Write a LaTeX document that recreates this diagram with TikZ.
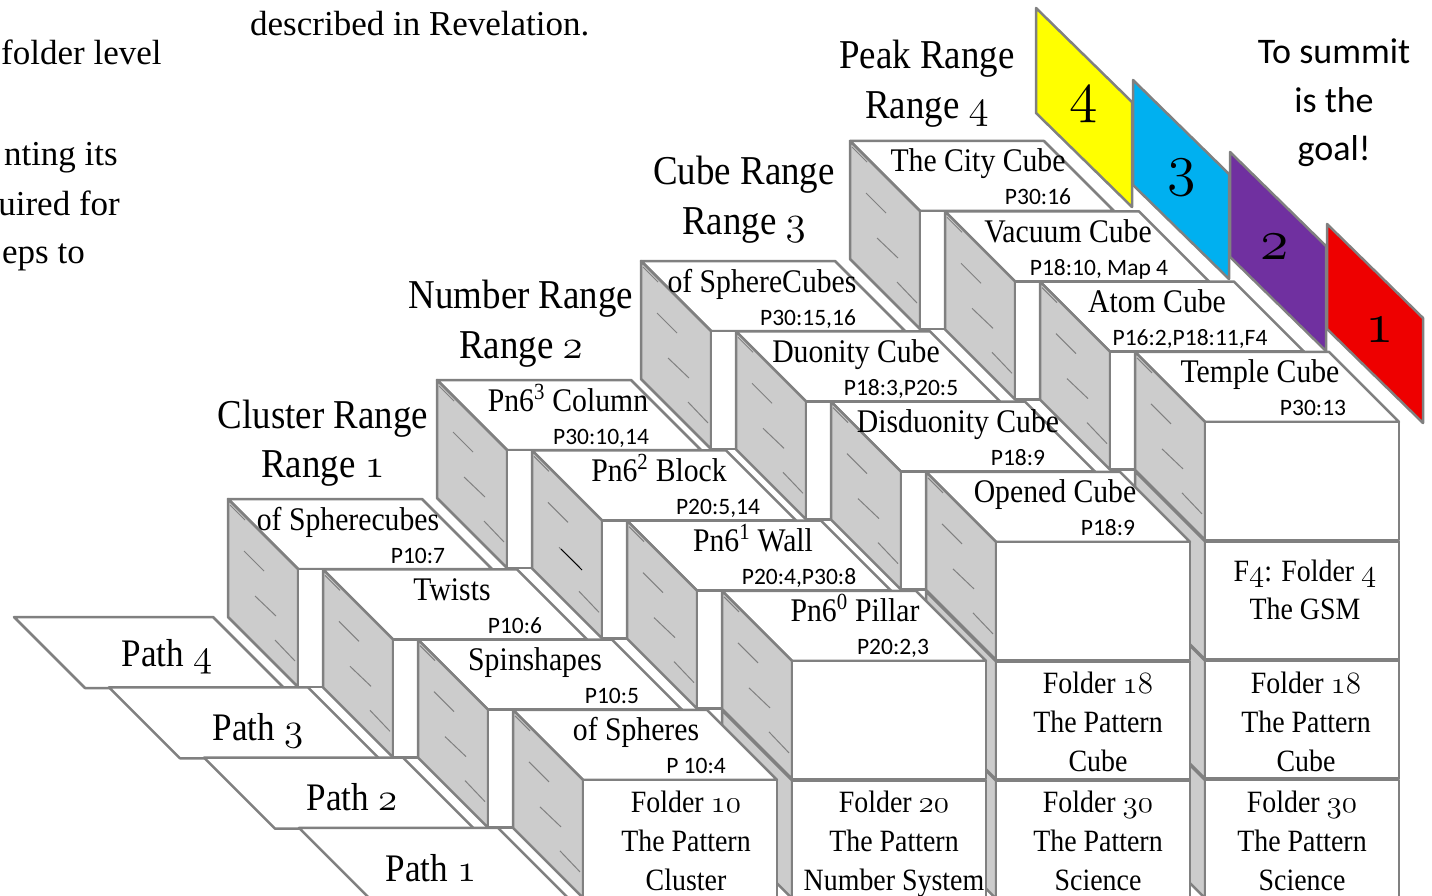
\RequirePackage{fix-cm}
\documentclass[tikz,border=0pt]{standalone}
\usepackage{fontspec}
\setmainfont{Liberation Serif}[FakeStretch=0.9]
\newfontfamily\plainserif{Liberation Serif}
\newfontfamily\calib{Carlito}
\newcommand\osf[1]{{\fontencoding{OML}\fontfamily{cmm}\fontseries{m}\fontshape{it}\selectfont #1}}
\definecolor{edgegray}{RGB}{128,128,128}
\definecolor{sidegray}{RGB}{204,204,204}
\definecolor{flagyellow}{RGB}{255,255,0}
\definecolor{flagblue}{RGB}{0,176,240}
\definecolor{flagpurple}{RGB}{112,48,160}
\definecolor{flagred}{RGB}{238,0,0}
% box: #1 x, #2 y, #3 name, #4 label, #5 label x, #6 page label, #7 page label x
\newcommand\cubebox[7]{%
  \begin{scope}[shift={(#1,#2)}]
    \draw[boxedge,fill=white] (0,0) -- (194,0) -- (264,70) -- (70,70) -- cycle;
    \draw[boxedge,fill=sidegray] (0,0) -- (70,70) -- (70,188) -- (0,118) -- cycle;
    \draw[boxedge,fill=white] (70,70) rectangle (264,188);
    \draw[hatchline] (2,6) -- (17,21) (16,52) -- (36,72) (27,97) -- (48,117) (47,141) -- (67,162);
    \node[toplbl] (#3) at (#5,31) {#4};
    \node[plbl] (#3p) at (#7,64) {#6};
  \end{scope}}
\newcommand\lowerblock[2]{%
  \begin{scope}[shift={(#1,#2)}]
    \draw[boxedge,fill=sidegray] (0,0) -- (70,70) -- (70,188) -- (0,118) -- cycle;
    \draw[boxedge,fill=white] (70,70) rectangle (264,188);
  \end{scope}}
\begin{document}
\begin{tikzpicture}[x=1pt,y=-1pt,
  boxedge/.style={draw=edgegray,line width=2.5pt,line join=round},
  hatchline/.style={draw=edgegray,line width=1pt},
  toplbl/.style={font=\fontsize{33}{39}\selectfont,inner sep=0pt,anchor=base},
  plbl/.style={font=\calib\fontsize{23.5}{28}\selectfont,inner sep=0pt,anchor=base},
  rangelbl/.style={font=\fontsize{41}{49}\selectfont,inner sep=0pt,anchor=base},
  pathlbl/.style={font=\fontsize{39}{46}\selectfont,inner sep=0pt,anchor=base},
  folderlbl/.style={font=\fontsize{31}{39}\selectfont,inner sep=0pt,anchor=base},
  flagnum/.style={font=\fontsize{58}{64}\selectfont,inner sep=0pt},
  goallbl/.style={font=\calib\fontsize{36}{49}\selectfont,inner sep=0pt,anchor=base},
  sidetxt/.style={font=\plainserif\fontsize{35}{49}\selectfont,inner sep=0pt},
]
\useasboundingbox (0,0) rectangle (1432,896);

% paths
\foreach \k/\num/\lx/\ly in {0/4/167/666,1/3/258/740,2/2/352/810,3/1/431/881}{
  \draw[boxedge,fill=white] ({14+95*\k},{617+70.3*\k}) -- ++(199,0) -- ++(71,71) -- ++(-199,0) -- cycle;
  \node[pathlbl] (path\num) at (\lx,\ly) {Path \osf{\num}};
}

% column 4 (Peak)
\lowerblock{1135}{710.1}
\lowerblock{1135}{590.7}
\lowerblock{1135}{471.3}
\cubebox{850}{141}{cityCube}{The City Cube}{128}{P30:16}{188}
\cubebox{945}{211.3}{vacuumCube}{Vacuum Cube}{123}{P18:10, Map 4}{154}
\cubebox{1040}{281.6}{atomCube}{Atom Cube}{117}{P16:2,P18:11,F4}{150}
\cubebox{1135}{351.9}{templeCube}{Temple Cube}{125}{P30:13}{178}

% column 3 (Cube)
\lowerblock{926}{710.7}
\lowerblock{926}{591.3}
\cubebox{641}{261}{sphereCubes}{of SphereCubes}{121}{P30:15,16}{167}
\cubebox{736}{331.3}{duonityCube}{Duonity Cube}{120}{P18:3,P20:5}{165}
\cubebox{831}{401.6}{disduonityCube}{Disduonity Cube}{127}{P18:9}{187}
\cubebox{926}{471.9}{openedCube}{Opened Cube}{129}{P18:9}{182}

% column 2 (Number)
\lowerblock{722}{710.3}
\cubebox{437}{380}{pnColumn}{Pn6\textsuperscript{3} Column}{131}{P30:10,14}{164}
\cubebox{532}{450.3}{pnBlock}{Pn6\textsuperscript{2} Block}{127}{P20:5,14}{186}
\draw[draw=black,line width=1pt] (561,549) -- (582,570);
\cubebox{627}{520.6}{pnWall}{Pn6\textsuperscript{1} Wall}{126}{P20:4,P30:8}{172}
\cubebox{722}{590.9}{pnPillar}{Pn6\textsuperscript{0} Pillar}{133}{P20:2,3}{171}

% column 1 (Cluster)
\cubebox{228}{499}{spherecubes}{of Spherecubes}{120}{P10:7}{190}
\cubebox{323}{569.3}{twists}{Twists}{129}{P10:6}{192}
\cubebox{418}{639.6}{spinshapes}{Spinshapes}{117}{P10:5}{194}
\cubebox{513}{709.9}{spheres}{of Spheres}{123}{P 10:4}{183}

% folder labels
\node[folderlbl] (f10a) at (686,812) {Folder \osf{10}};
\node[folderlbl] (f10b) at (686,851) {The Pattern};
\node[folderlbl] (f10c) at (686,890) {Cluster};
\node[folderlbl] (f20a) at (894,812) {Folder \osf{20}};
\node[folderlbl] (f20b) at (894,851) {The Pattern};
\node[folderlbl] (f20c) at (894,890) {Number System};
\node[folderlbl] (f18a) at (1098,693) {Folder \osf{18}};
\node[folderlbl] (f18b) at (1098,732) {The Pattern};
\node[folderlbl] (f18c) at (1098,771) {Cube};
\node[folderlbl] (f30a) at (1098,812) {Folder \osf{30}};
\node[folderlbl] (f30b) at (1098,851) {The Pattern};
\node[folderlbl] (f30c) at (1098,890) {Science};
\node[folderlbl] (f4a) at (1305,581) {F\osf{4}: Folder \osf{4}};
\node[folderlbl] (f4b) at (1305,619) {The GSM};
\node[folderlbl] (g18a) at (1306,693) {Folder \osf{18}};
\node[folderlbl] (g18b) at (1306,732) {The Pattern};
\node[folderlbl] (g18c) at (1306,771) {Cube};
\node[folderlbl] (g30a) at (1302,812) {Folder \osf{30}};
\node[folderlbl] (g30b) at (1302,851) {The Pattern};
\node[folderlbl] (g30c) at (1302,890) {Science};

% range headers
\node[rangelbl] (clusterA) at (323,428) {Cluster Range};
\node[rangelbl] (clusterB) at (323,477) {Range \osf{1}};
\node[rangelbl] (numberA) at (521,308) {Number Range};
\node[rangelbl] (numberB) at (521,358) {Range \osf{2}};
\node[rangelbl] (cubeA) at (744,185) {Cube Range};
\node[rangelbl] (cubeB) at (744,235) {Range \osf{3}};
\node[rangelbl] (peakA) at (927,69) {Peak Range};
\node[rangelbl] (peakB) at (927,119) {Range \osf{4}};

% flags
\foreach \i/\col in {0/flagyellow,1/flagblue,2/flagpurple,3/flagred}{
  \draw[boxedge,fill=\col] ({1036+97*\i},{8+72*\i}) -- ++(96,94) -- ++(0,105) -- ++(-96,-94) -- cycle;
}
\node[flagnum] (flag4) at (1084,105) {\osf{4}};
\node[flagnum] (flag3) at (1182,178) {\osf{3}};
\node[flagnum] (flag2) at (1275,247) {\osf{2}};
\node[flagnum] (flag1) at (1380,330) {\osf{1}};
\node[goallbl] (goalA) at (1334,64) {To summit};
\node[goallbl] (goalB) at (1334,113) {is the};
\node[goallbl] (goalC) at (1334,161) {goal!};

% cut-off text at the top left
\node[sidetxt,anchor=base west] (reveal) at (250,36) {described in Revelation.};
\node[sidetxt,anchor=base west] (frag1) at (1,65) {folder level};
\node[sidetxt,anchor=base east] (frag2) at (118,166) {nting its};
\node[sidetxt,anchor=base east] (frag3) at (120,215) {uired for};
\node[sidetxt,anchor=base east] (frag4) at (85,263) {eps to};
\end{tikzpicture}
\end{document}
